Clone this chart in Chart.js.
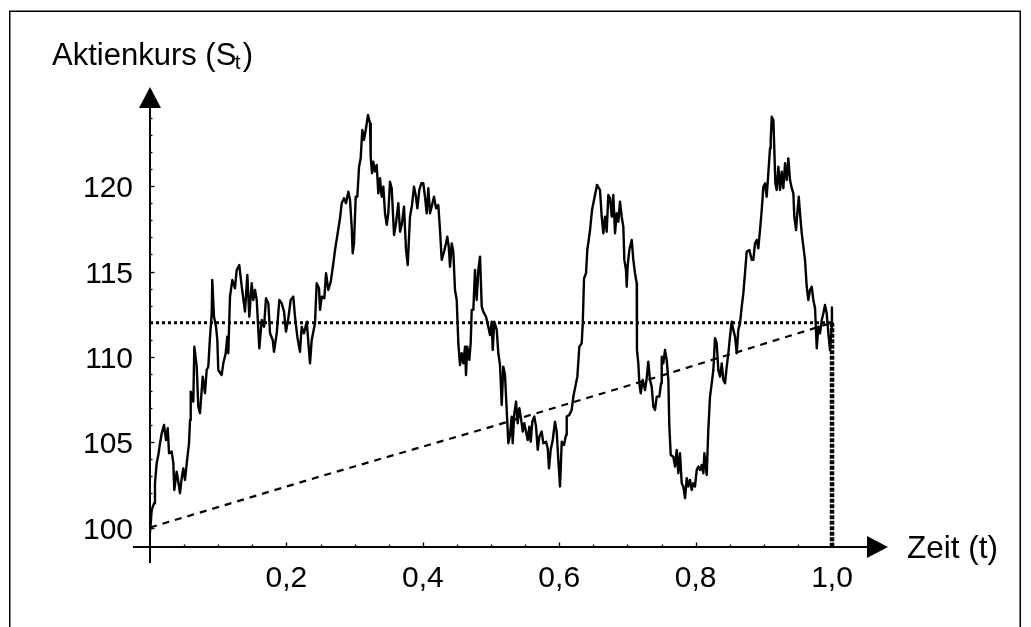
<!DOCTYPE html>
<html><head><meta charset="utf-8">
<script src="https://cdn.jsdelivr.net/npm/chart.js@4.4.1/dist/chart.umd.min.js"></script>
<style>html,body{margin:0;padding:0;background:#fff}canvas{display:block}</style>
</head><body>
<canvas id="c" width="1031" height="627"></canvas>
<script>
// ---- data ----
const timePoints = [
0,0.0025,0.0059,0.0073,0.0098,0.0122,0.0147,0.0172,0.0205,0.0235,0.026,0.0279,0.0318,0.0342,0.0356,0.0391,0.0415,0.044,0.0465,0.0488,
0.0513,0.0547,0.0572,0.0587,0.0597,0.0635,0.065,0.0685,0.0708,0.0733,0.0773,0.0806,0.0831,0.0855,0.088,0.0905,0.0913,0.0938,0.0968,0.0987,
0.1001,0.1051,0.1075,0.111,0.1133,0.1148,0.1173,0.1207,0.1246,0.1271,0.1309,0.1345,0.1393,0.1427,0.1456,0.1491,0.1515,0.154,0.1565,0.1603,
0.1638,0.1672,0.1701,0.1735,0.176,0.1799,0.1818,0.1858,0.1896,0.1931,0.1965,0.1994,0.2028,0.2063,0.2101,0.2126,0.216,0.2199,0.2224,0.2258,
0.2298,0.2346,0.2371,0.2419,0.2444,0.2478,0.2493,0.2518,0.2556,0.2581,0.2614,0.265,0.2688,0.2713,0.2786,0.2811,0.2845,0.2874,0.2908,0.2933,
0.2957,0.2972,0.2991,0.3016,0.304,0.3065,0.3089,0.3113,0.3138,0.3167,0.3196,0.3226,0.3236,0.3255,0.3274,0.3299,0.3324,0.3348,0.3372,0.3397,
0.3421,0.3446,0.3471,0.3494,0.3519,0.3544,0.3578,0.3607,0.3641,0.3666,0.3691,0.3724,0.3754,0.3779,0.3812,0.3842,0.3871,0.39,0.392,0.3949,
0.3978,0.4007,0.4032,0.4057,0.4081,0.4106,0.413,0.4164,0.4194,0.4227,0.4252,0.4277,0.4311,0.434,0.4359,0.438,0.4399,0.4424,0.4447,0.4472,
0.4497,0.4521,0.4545,0.457,0.4594,0.4619,0.4633,0.4652,0.4682,0.4702,0.4717,0.4741,0.4765,0.479,0.4814,0.4839,0.4864,0.4887,0.4927,0.496,
0.4985,0.501,0.5025,0.5048,0.5084,0.5107,0.5132,0.5157,0.518,0.5205,0.523,0.5254,0.5279,0.5303,0.5318,0.5342,0.5367,0.5391,0.5415,0.544,
0.5465,0.5488,0.5513,0.5538,0.5562,0.5582,0.5606,0.5635,0.566,0.5685,0.5708,0.5743,0.5767,0.5806,0.5831,0.585,0.5875,0.5905,0.5938,0.5963,
0.5987,0.6012,0.6037,0.607,0.61,0.611,0.6148,0.6183,0.6207,0.6246,0.6266,0.6295,0.633,0.6345,0.6364,0.6393,0.6412,0.6452,0.6481,0.651,
0.6554,0.6598,0.6623,0.6647,0.6672,0.6696,0.672,0.6745,0.677,0.6793,0.6818,0.6843,0.6867,0.6891,0.6916,0.694,0.6955,0.6979,0.699,0.7004,
0.7028,0.7063,0.7087,0.7111,0.7136,0.714,0.716,0.7175,0.7195,0.7224,0.7258,0.7283,0.7306,0.7331,0.7356,0.738,0.7405,0.743,0.7468,0.7493,
0.7503,0.7526,0.7551,0.7576,0.76,0.7614,0.7635,0.7673,0.7698,0.7723,0.7746,0.7771,0.7796,0.782,0.7845,0.787,0.7893,0.7918,0.7943,0.7966,
0.7991,0.8016,0.804,0.8065,0.8089,0.8114,0.8128,0.8163,0.8186,0.8211,0.8236,0.826,0.8284,0.8309,0.8333,0.8358,0.8383,0.8406,0.8431,0.8456,
0.848,0.8504,0.8529,0.8553,0.8578,0.8603,0.8626,0.8651,0.8676,0.87,0.8724,0.8749,0.8787,0.8823,0.8846,0.8871,0.8896,0.8919,0.8944,0.8969,
0.8993,0.9018,0.9042,0.9066,0.9091,0.9101,0.9116,0.914,0.9154,0.9169,0.9189,0.9213,0.9238,0.9262,0.9286,0.9311,0.9336,0.9359,0.9384,0.9409,
0.9433,0.9447,0.9472,0.9491,0.9512,0.9531,0.9556,0.958,0.9604,0.9629,0.9653,0.9677,0.9702,0.9726,0.9751,0.9776,0.9799,0.9824,0.9849,0.9873,
0.9897,0.9922,0.9946,0.9971,0.9996,0.9998,1.0
];
const stockPrice = [
99.7,101.03,101.42,102.6,103.77,104.25,104.94,105.52,106.01,105.13,105.82,104.35,104.45,103.77,102.2,103.27,102.69,102.01,102.89,103.47,
102.79,104.06,104.94,106.3,107.96,107.38,110.6,109.43,107.08,106.7,108.84,107.87,109.23,109.43,111.18,112.55,114.5,112.35,111.77,110.99,
109.23,108.94,109.62,110.21,111.18,110.21,113.53,114.5,114.02,115.09,115.38,114.11,112.65,114.8,112.35,114.31,113.33,113.92,113.33,110.5,
112.16,111.77,113.43,113.14,111.38,110.99,110.3,111.38,113.33,113.14,112.65,111.48,112.26,113.33,113.53,112.35,111.18,110.3,111.77,111.38,
112.06,109.62,110.99,111.97,114.31,114.02,112.75,113.53,113.43,114.9,113.92,114.4,115.48,116.26,118.12,119.0,119.29,119.0,119.68,119.19,
117.63,116.07,116.65,119.38,119.38,121.14,121.63,123.29,122.71,123.39,124.17,123.68,121.73,120.76,121.43,120.85,121.24,119.58,120.46,119.38,
119.97,118.41,117.73,118.41,120.26,119.88,117.14,117.83,119.0,117.33,117.73,118.8,116.26,115.38,118.21,118.9,119.97,119.38,118.7,119.78,
120.17,120.17,119.38,118.41,119.88,118.41,118.8,119.38,118.7,118.9,117.43,115.68,116.16,116.65,117.04,116.46,115.28,116.65,116.16,113.92,
113.33,110.8,109.52,110.21,109.62,110.6,108.94,110.6,109.82,110.8,112.75,112.75,115.09,113.33,115.09,115.87,112.94,112.65,112.35,111.77,
111.28,112.06,110.4,112.06,111.58,110.21,109.52,107.18,109.43,108.94,106.89,104.94,105.42,106.5,104.94,106.7,107.38,106.11,106.99,106.4,
105.62,106.11,105.62,105.13,105.91,105.03,106.2,106.5,105.91,104.55,105.32,105.62,104.94,105.03,104.65,103.47,104.55,105.13,106.2,105.62,
103.96,102.4,105.03,104.84,105.42,106.5,106.6,106.89,107.67,108.45,108.84,110.6,110.8,111.97,114.6,114.9,116.26,117.43,118.6,119.19,
120.07,119.77,118.21,117.24,118.21,117.33,119.48,119.29,118.21,119.48,117.24,118.41,117.92,119.09,118.21,117.63,115.68,115.09,114.11,115.38,
116.26,116.85,115.68,114.9,114.31,110.4,109.62,108.45,107.87,108.65,108.06,108.75,109.72,108.65,108.25,107.08,106.89,107.67,107.67,108.45,
110.01,109.62,110.4,109.82,108.65,106.01,104.25,104.15,103.57,104.55,103.18,104.35,102.6,102.4,101.72,102.89,102.4,102.79,102.2,102.6,
102.4,103.37,103.57,103.37,103.67,103.18,104.35,103.08,105.72,107.67,108.45,109.23,111.09,110.8,109.23,108.84,109.62,108.65,108.45,109.43,
110.21,111.18,112.06,111.58,111.18,110.21,111.58,111.97,112.94,113.73,114.9,116.16,116.26,115.68,115.68,116.65,116.85,116.36,117.43,118.6,
119.97,120.17,119.38,120.76,122.22,122.71,124.07,123.88,122.12,120.17,119.78,121.14,119.78,120.85,119.88,121.34,120.36,121.63,120.36,119.88,
119.58,118.21,117.43,118.41,119.38,118.41,117.24,116.46,115.68,114.11,113.33,113.92,114.11,113.33,112.85,110.5,111.77,111.38,112.16,112.55,
113.04,112.55,111.38,110.4,111.77,112.9,112.0
];
const trendTime  = [0, 0.25, 0.5, 0.75, 1.0];
const trendPrice = [100.0, 103.0, 105.9, 108.9, 112.0];
const finalTime  = 1.0;
const finalPrice = 112.0;
const xTickValues = [0.2, 0.4, 0.6, 0.8, 1.0];
const yTickValues = [100, 105, 110, 115, 120];
const yAxisTitle = 'Aktienkurs (S';
const yAxisTitleSub = 't';
const xAxisTitle = 'Zeit (t)';

// ---- scale ranges ----
const Y_MIN = 98.86, Y_MAX = 125.81, X_MIN = 0, X_MAX = 1.0806;
const FONT = '"Liberation Sans", Arial, Helvetica, sans-serif';

const decor = {
  id: 'decor',
  beforeDraw(chart) {
    const ctx = chart.ctx;
    ctx.save();
    ctx.fillStyle = '#fff';
    ctx.fillRect(0, 0, chart.width, chart.height);
    ctx.strokeStyle = '#000';
    ctx.lineWidth = 1.5;
    ctx.strokeRect(9.75, 11.25, 1010.5, 700);
    ctx.restore();
  },
  afterDraw(chart) {
    const ctx = chart.ctx;
    const xs = chart.scales.x, ys = chart.scales.y;
    const x0 = xs.getPixelForValue(0);
    const yb = ys.getPixelForValue(Y_MIN);
    ctx.save();
    ctx.strokeStyle = '#000';
    ctx.fillStyle = '#000';
    ctx.lineWidth = 2;
    // y axis
    ctx.beginPath(); ctx.moveTo(x0, yb + 16); ctx.lineTo(x0, 106); ctx.stroke();
    ctx.beginPath(); ctx.moveTo(x0, 87); ctx.lineTo(x0 - 11, 108); ctx.lineTo(x0 + 11, 108); ctx.closePath(); ctx.fill();
    // x axis
    ctx.beginPath(); ctx.moveTo(133, yb); ctx.lineTo(869, yb); ctx.stroke();
    ctx.beginPath(); ctx.moveTo(888, yb); ctx.lineTo(867, yb - 11); ctx.lineTo(867, yb + 11); ctx.closePath(); ctx.fill();
    // y ticks
    ctx.lineWidth = 1.3;
    for (let v = 100; v <= 124; v++) {
      const py = Math.round(ys.getPixelForValue(v)) + 0.5;
      const len = (v % 5 === 0) ? 4.5 : 2.5;
      ctx.beginPath(); ctx.moveTo(x0, py); ctx.lineTo(x0 + len, py); ctx.stroke();
    }
    // x ticks
    for (let k = 1; k <= 20; k++) {
      const px = Math.round(xs.getPixelForValue(k * 0.05)) + 0.5;
      const len = (k % 4 === 0) ? 4.5 : 2.5;
      ctx.beginPath(); ctx.moveTo(px, yb); ctx.lineTo(px, yb - len); ctx.stroke();
    }
    // titles
    ctx.textBaseline = 'alphabetic';
    ctx.textAlign = 'left';
    ctx.font = '31px ' + FONT;
    ctx.fillText(yAxisTitle, 52, 65);
    let w = ctx.measureText(yAxisTitle).width;
    ctx.font = '21px ' + FONT;
    ctx.fillText(yAxisTitleSub, 52 + w - 1.5, 68.5);
    const w2 = ctx.measureText(yAxisTitleSub).width;
    ctx.font = '31px ' + FONT;
    ctx.fillText(')', 52 + w - 1.5 + w2 + 2, 65);
    ctx.font = '31.5px ' + FONT;
    ctx.fillText(xAxisTitle, 907, 558);
    ctx.restore();
  }
};

const walk = timePoints.map((t, i) => ({ x: t, y: stockPrice[i] }));
const trend = trendTime.map((t, i) => ({ x: t, y: trendPrice[i] }));

new Chart(document.getElementById('c'), {
  type: 'scatter',
  data: {
    datasets: [
      { data: walk, showLine: true, borderColor: '#000', borderWidth: 2.4, pointRadius: 0, tension: 0, borderJoinStyle: 'round' },
      { data: trend, showLine: true, borderColor: '#000', borderWidth: 2.2, borderDash: [7, 6], pointRadius: 0 },
      { data: [{ x: 0, y: finalPrice }, { x: finalTime, y: finalPrice }], showLine: true, borderColor: '#000', borderWidth: 3, borderDash: [3, 3], pointRadius: 0 },
      { data: [{ x: finalTime, y: finalPrice }, { x: finalTime, y: Y_MIN }], showLine: true, borderColor: '#000', borderWidth: 4.5, borderDash: [4, 1.5], borderCapStyle: 'butt', pointRadius: 0 }
    ]
  },
  options: {
    responsive: false,
    animation: false,
    events: [],
    layout: { padding: { left: 0, right: 144, top: 87, bottom: 0 } },
    plugins: { legend: { display: false }, tooltip: { enabled: false } },
    scales: {
      x: {
        type: 'linear', min: X_MIN, max: X_MAX,
        afterBuildTicks: s => { s.ticks = xTickValues.map(v => ({ value: v })); },
        afterFit: s => { s.height = 80; },
        grid: { display: false, drawTicks: false },
        border: { display: false },
        ticks: {
          callback: v => Number(v).toFixed(1).replace('.', ','),
          font: { size: 30, family: FONT }, color: '#000', padding: 14,
          maxRotation: 0, autoSkip: false
        }
      },
      y: {
        type: 'linear', min: Y_MIN, max: Y_MAX,
        afterBuildTicks: s => { s.ticks = yTickValues.map(v => ({ value: v })); },
        afterFit: s => { s.width = 150; },
        grid: { display: false, drawTicks: false },
        border: { display: false },
        ticks: {
          callback: v => String(v),
          font: { size: 30, family: FONT }, color: '#000', padding: 17,
          labelOffset: 3, autoSkip: false
        }
      }
    }
  },
  plugins: [decor]
});
</script>
</body></html>
